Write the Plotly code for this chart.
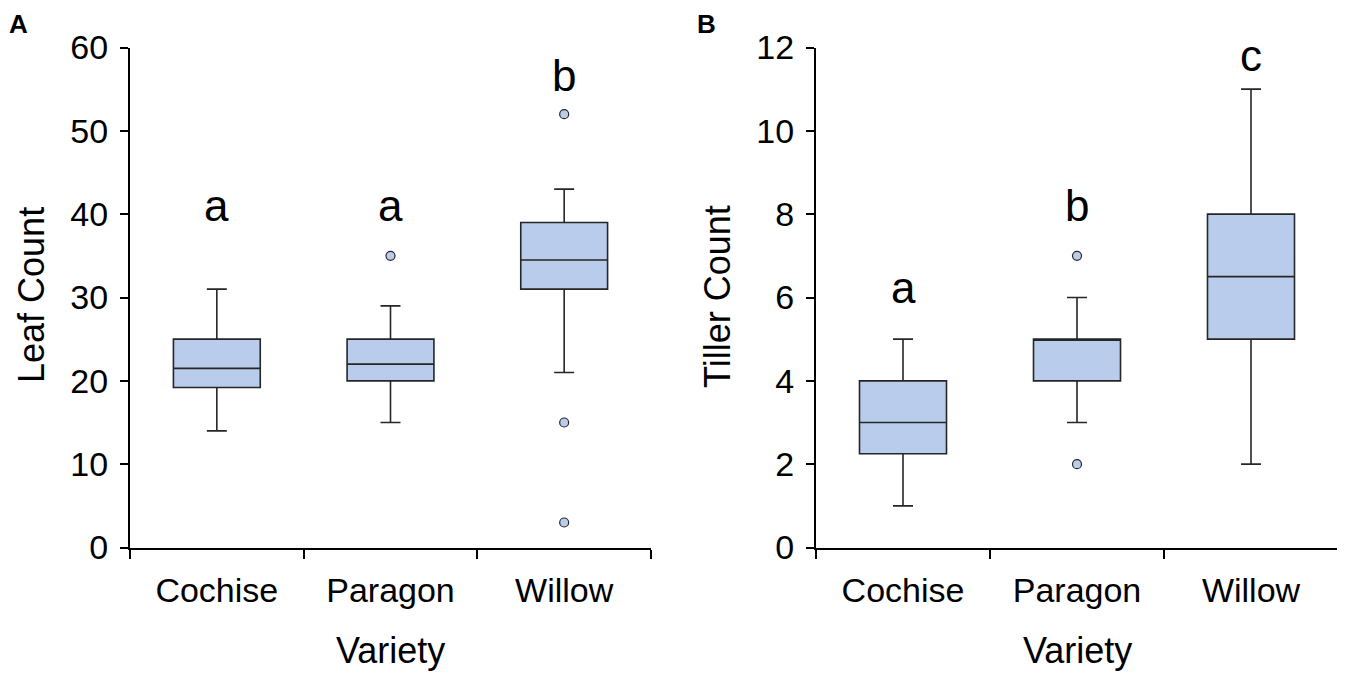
import plotly.graph_objects as go

# varieties and summary stats
varieties = ["Cochise", "Paragon", "Willow"]

leaf_lower = [14, 15, 21]
leaf_q1 = [19.2, 20, 31]
leaf_median = [21.5, 22, 34.5]
leaf_q3 = [25, 25, 39]
leaf_upper = [31, 29, 43]
leaf_out_x = ["Paragon", "Willow", "Willow", "Willow"]
leaf_out_y = [35, 52, 15, 3]
leaf_letters = ["a", "a", "b"]
leaf_letter_y = [41.0, 41.0, 56.6]

tiller_lower = [1, 3, 2]
tiller_q1 = [2.25, 4, 5]
tiller_median = [3, 5, 6.5]
tiller_q3 = [4, 5, 8]
tiller_upper = [5, 6, 11]
tiller_out_x = ["Paragon", "Paragon"]
tiller_out_y = [7, 2]
tiller_letters = ["a", "b", "c"]
tiller_letter_y = [6.25, 8.22, 11.82]

W, H = 1345, 680
OFF = 8  # page body margin of the html
FONT = "Liberation Sans, Arial, sans-serif"
fill = "#B9CCEB"
edge = "#262626"


def px(v):
    return (v - OFF) / W


def py(v):
    return 1 - (v - OFF) / H


fig = go.Figure()

panels = [
    (leaf_lower, leaf_q1, leaf_median, leaf_q3, leaf_upper, leaf_out_x, leaf_out_y, "x", "y"),
    (tiller_lower, tiller_q1, tiller_median, tiller_q3, tiller_upper, tiller_out_x, tiller_out_y, "x2", "y2"),
]
for lo, q1, med, q3, up, ox, oy, xa, ya in panels:
    fig.add_trace(go.Box(
        x=varieties, q1=q1, median=med, q3=q3, lowerfence=lo, upperfence=up,
        fillcolor=fill, line=dict(color=edge, width=1.6),
        width=0.5, whiskerwidth=0.23, boxpoints=False,
        xaxis=xa, yaxis=ya, showlegend=False, hoverinfo="skip",
    ))
    fig.add_trace(go.Scatter(
        x=ox, y=oy, mode="markers",
        marker=dict(size=9, color=fill, line=dict(color=edge, width=1.2)),
        xaxis=xa, yaxis=ya, showlegend=False, hoverinfo="skip",
    ))

annotations = []
for letters, ly, xr, yr in [(leaf_letters, leaf_letter_y, "x", "y"),
                            (tiller_letters, tiller_letter_y, "x2", "y2")]:
    for v, t, yy in zip(varieties, letters, ly):
        annotations.append(dict(x=v, y=yy, xref=xr, yref=yr, text=t, showarrow=False,
                                xanchor="center", yanchor="middle",
                                font=dict(size=44, color="black", family=FONT)))

# axis titles and panel tags
for txt, xp, yp, ang in [("Leaf Count", 31, 295, -90), ("Tiller Count", 717, 297, -90),
                         ("Variety", 390, 650, 0), ("Variety", 1077, 650, 0)]:
    annotations.append(dict(x=px(xp), y=py(yp), xref="paper", yref="paper", text=txt,
                            textangle=ang, showarrow=False, xanchor="center", yanchor="middle",
                            font=dict(size=36, color="black", family=FONT)))
for txt, xp in [("A", 8), ("B", 696)]:
    annotations.append(dict(x=px(xp), y=1, xref="paper", yref="paper",
                            text="<b>" + txt + "</b>", showarrow=False,
                            xanchor="left", yanchor="top", borderpad=0,
                            font=dict(size=26, color="black", family=FONT)))

ydom = [py(547.5), py(47.5)]
xcommon = dict(type="category", range=[-0.5, 2.5], tickson="boundaries", ticks="outside",
               ticklen=9, tickwidth=2, tickcolor="black", showline=True, linecolor="black",
               linewidth=2, showgrid=False, zeroline=False, automargin=False,
               ticklabelstandoff=12,
               tickfont=dict(size=34, color="black", family=FONT), fixedrange=True)
ycommon = dict(ticks="outside", ticklen=8, tickwidth=2, tickcolor="black", showline=True,
               linecolor="black", linewidth=2, showgrid=False, zeroline=False,
               automargin=False, domain=ydom, ticklabelstandoff=5,
               tickfont=dict(size=34, color="black", family=FONT), fixedrange=True)

fig.update_layout(
    width=W, height=H,
    margin=dict(l=0, r=0, t=0, b=0),
    paper_bgcolor="white", plot_bgcolor="white",
    xaxis=dict(xcommon, domain=[px(130), px(651)], anchor="y"),
    xaxis2=dict(xcommon, domain=[px(816), px(1338)], anchor="y2"),
    yaxis=dict(ycommon, range=[0, 60], dtick=10, anchor="x"),
    yaxis2=dict(ycommon, range=[0, 12], dtick=2, anchor="x2"),
    annotations=annotations,
    boxgap=0.5,
)

fig.write_html("out.html")
